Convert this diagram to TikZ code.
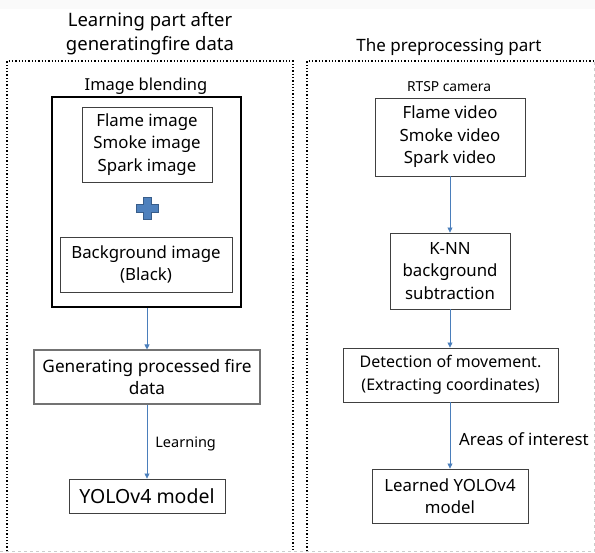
\documentclass[tikz,border=0pt]{standalone}
\usepackage{fontspec}
\setmainfont{Noto Sans}
\usetikzlibrary{arrows.meta}
\definecolor{arrowblue}{HTML}{4A7EBB}
\definecolor{plusblue}{HTML}{4F81BD}
\definecolor{plusedge}{HTML}{385D8A}
\definecolor{boxedge}{HTML}{404040}
\tikzset{
  box/.style={draw=boxedge, line width=0.9pt, inner sep=0pt, align=center,
    font=\fontsize{16.8}{22.5}\selectfont},
  lbl/.style={inner sep=0pt, font=\fontsize{14.5}{18}\selectfont},
  ttl/.style={inner sep=0pt, align=center, font=\fontsize{18.5}{24}\selectfont},
  flow/.style={draw=arrowblue, line width=0.8pt, -{Triangle[length=5pt,width=5pt]}},
  part/.style={line width=1.3pt, dotted},
}
\begin{document}
\begin{tikzpicture}[x=1pt,y=-1pt]
\useasboundingbox (0,0) rectangle (595,553);
\fill[gray!4] (0,0) rectangle (595,9);
% outer faint frame
\draw[gray!40, dashed, line width=0.6pt] (0,551.5) -- (594,551.5) -- (594,61);
% dotted parts
\draw[part] (7,551) -- (7,61) -- (293,61) -- (293,551);
\draw[part] (307,551) -- (307,61) -- (593,61);
% titles
\node[ttl] (t1) at (150,34) {Learning part after\\generatingfire data};
\node[ttl, font=\fontsize{17}{22}\selectfont] (t2) at (449,47) {The preprocessing part};
% left side
\node[ttl, font=\fontsize{16.5}{22}\selectfont] (ib) at (146,86) {Image blending};
\node[draw=black, line width=1.6pt, minimum width=189pt, minimum height=210pt, inner sep=0pt] (blend) at (146.5,202) {};
\node[box, minimum width=130pt, minimum height=75pt] (flame) at (147,144.5) {\raisebox{-2pt}{\parbox{120pt}{\centering Flame image\\Smoke image\\Spark image}}};
\draw[plusedge, fill=plusblue, line width=1pt]
  (143,198) -- (151,198) -- (151,205) -- (158,205) -- (158,213) -- (151,213) -- (151,220)
  -- (143,220) -- (143,213) -- (136,213) -- (136,205) -- (143,205) -- cycle;
\node[box, minimum width=172pt, minimum height=55pt] (bg) at (146,264.5) {Background image\\(Black)};
\node[box, draw=gray!90!black, line width=1.1pt, minimum width=226pt, minimum height=54pt, font=\fontsize{17.2}{22.5}\selectfont] (gen) at (147,377) {Generating processed fire\\data};
\node[box, minimum width=156pt, minimum height=34pt, font=\fontsize{19.5}{22.5}\selectfont] (yolo) at (147,496) {YOLOv4 model};
\draw[flow] (blend.south -| gen.north) -- (gen.north);
\draw[flow] (gen.south) -- node[lbl, anchor=west, xshift=8pt, yshift=-2.5pt] (learn) {Learning} (yolo.north);
% right side
\node[lbl, font=\fontsize{13.8}{18}\selectfont] (rtsp) at (449,87) {RTSP camera};
\node[box, minimum width=150pt, minimum height=78pt] (video) at (450,137) {Flame video\\Smoke video\\Spark video};
\node[box, minimum width=120pt, minimum height=76pt] (knn) at (450,271) {K-NN\\background\\subtraction};
\node[box, minimum width=215pt, minimum height=54pt, font=\fontsize{16}{22.5}\selectfont] (det) at (450.5,375) {Detection of movement.\\(Extracting coordinates)};
\node[box, minimum width=156pt, minimum height=54pt] (learned) at (450,496) {Learned YOLOv4\\model};
\draw[flow] (video.south) -- (knn.north);
\draw[flow] (knn.south) -- (knn.south |- det.north);
\coordinate (ai) at (459,439);
\node[lbl, anchor=west, font=\fontsize{16.8}{20}\selectfont] (areas) at (ai) {Areas of interest};
\draw[flow] (det.south -| knn.south) -- (learned.north);
\end{tikzpicture}
\end{document}
